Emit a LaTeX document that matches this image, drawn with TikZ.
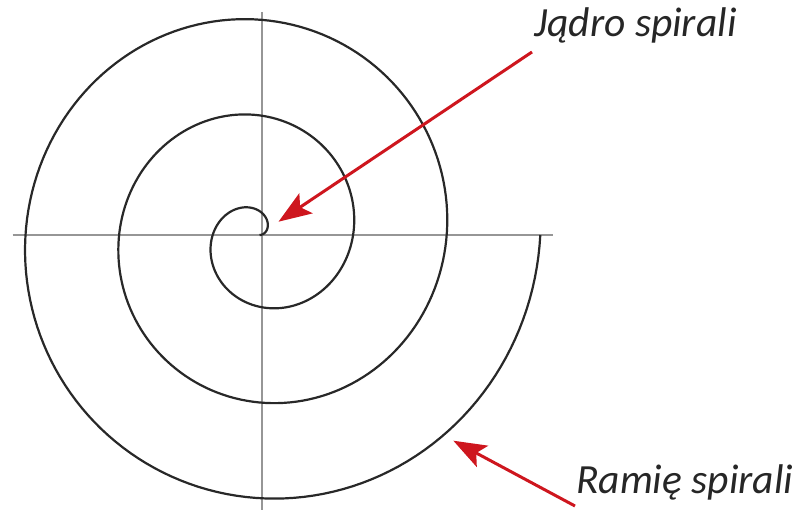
\documentclass[tikz,border=0pt]{standalone}
\usepackage{fontspec}
\setmainfont{Carlito}
\usetikzlibrary{arrows.meta}
\definecolor{arrred}{RGB}{206,22,30}
\definecolor{spiralc}{RGB}{40,40,40}
\definecolor{axisc}{RGB}{150,150,150}
\tikzset{
  axisline/.style={draw=axisc, line width=2pt},
  spiralline/.style={draw=spiralc, line width=2.2pt, line join=round},
  callout/.style={draw=arrred, line width=3pt, -{Stealth[length=33pt,width=24pt,inset=7pt]}},
  label/.style={font=\fontsize{41.5}{47}\selectfont\itshape, text=black!85, inner sep=0pt, anchor=base west}
}
\begin{document}
\begin{tikzpicture}[x=1pt,y=-1pt]
\useasboundingbox (0,0) rectangle (804,513);
% axes
\coordinate (hl) at (12.7,235);
\coordinate (hr) at (553,235);
\coordinate (vt) at (261.5,12);
\coordinate (vb) at (261.5,510);
\draw[axisline] (hl) -- (hr);
\draw[axisline] (vt) -- (vb);
% spiral
\draw[spiralline] plot[domain=0:1080, samples=500, variable=\t]
  ({259.5 + (\t/360)*93.6*cos(\t)}, {235 - (\t/360)*95.7*sin(\t)});
% labels
\node[label] (jadro) at (534,37) {Jądro spirali};
\node[label] (ramie) at (576,493) {Ramię spirali};
% callouts
\coordinate (core) at (278.5,221.7);
\coordinate (arm) at (453.3,440.7);
\coordinate (t1) at (532,52);
\coordinate (t2) at (575,506);
\draw[callout] (t1) -- (core);
\draw[callout] (t2) -- (arm);
\end{tikzpicture}
\end{document}
